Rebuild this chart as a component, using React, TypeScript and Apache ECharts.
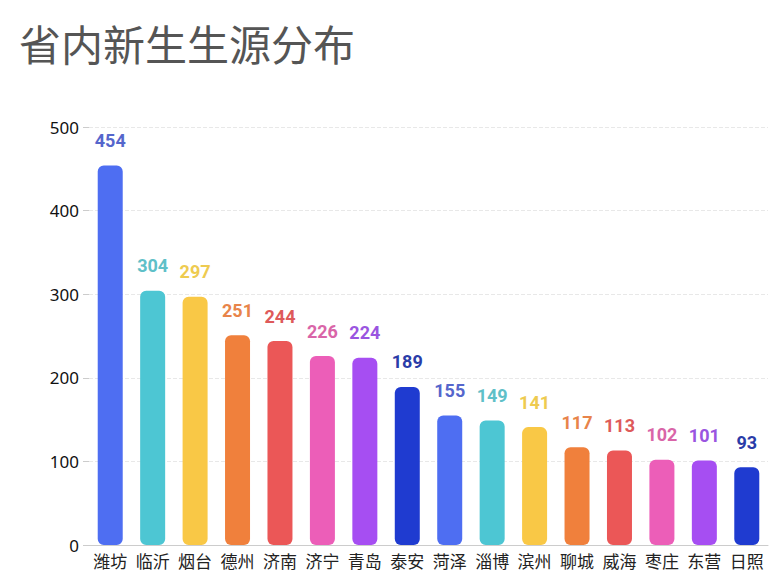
import React, { useEffect, useRef } from "react";
import * as echarts from "echarts";

const categories = ["潍坊", "临沂", "烟台", "德州", "济南", "济宁", "青岛", "泰安", "菏泽", "淄博", "滨州", "聊城", "威海", "枣庄", "东营", "日照"];
const values = [454, 304, 297, 251, 244, 226, 224, 189, 155, 149, 141, 117, 113, 102, 101, 93];
const barColors = ["#4e6ef2", "#4dc6d3", "#f9c846", "#f0803c", "#eb5757", "#ec5eb8", "#a64ef2", "#1f3bd0"];
const labelColors = ["#5566cc", "#5fc0c8", "#eecb50", "#e8844a", "#de5a5a", "#d965a8", "#9a55e0", "#2a3ca8"];
const yTicks = [0, 100, 200, 300, 400, 500];

export default function App() {
  const ref = useRef<HTMLDivElement>(null);
  useEffect(() => {
    const chart = echarts.init(ref.current!, undefined, { renderer: "svg" });
    chart.setOption({
      animation: false,
      backgroundColor: "#ffffff",
      title: {
        text: "省内新生生源分布",
        left: 14,
        top: 16,
        textStyle: { fontSize: 42, fontWeight: "normal", color: "#555555", fontFamily: "Noto Sans CJK SC" },
      },
      grid: { left: 89, right: 15, top: 127, bottom: 38, containLabel: false },
      xAxis: {
        type: "category",
        data: categories,
        axisLine: { lineStyle: { color: "#cccccc" } },
        axisTick: { alignWithLabel: true, lineStyle: { color: "#cccccc" } },
        axisLabel: { interval: 0, color: "#222222", fontSize: 17, margin: 7, fontFamily: "Noto Sans CJK SC" },
      },
      yAxis: {
        type: "value",
        min: yTicks[0],
        max: yTicks[yTicks.length - 1],
        interval: 100,
        axisLine: { show: false },
        axisTick: { show: true, length: 6, lineStyle: { color: "#cccccc" } },
        axisLabel: { color: "#111111", fontSize: 17, margin: 10, fontFamily: "Noto Sans" },
        splitLine: { lineStyle: { color: "#e8e8e8", type: "dashed" } },
      },
      series: [
        {
          type: "bar",
          data: values.map((v, i) => ({
            value: v,
            itemStyle: { color: barColors[i % barColors.length] },
            label: { color: labelColors[i % labelColors.length] },
          })),
          barWidth: 25,
          itemStyle: { borderRadius: 6 },
          label: {
            show: true,
            position: "top",
            distance: 16,
            fontSize: 18,
            fontWeight: "bold",
            fontFamily: "Roboto",
          },
        },
      ],
    });
    return () => chart.dispose();
  }, []);
  return <div ref={ref} style={{ position: "fixed", left: 0, top: 0, width: 783, height: 583 }} />;
}
